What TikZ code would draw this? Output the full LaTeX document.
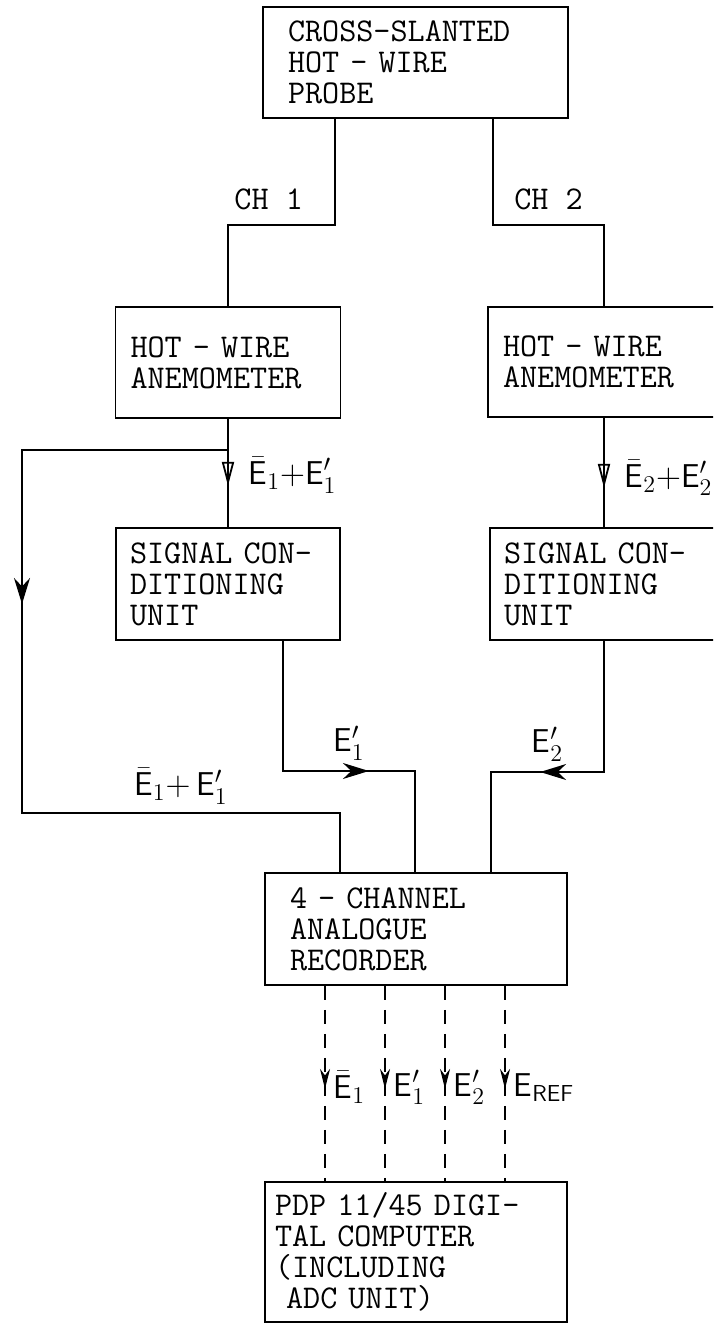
\documentclass[tikz,border=0pt]{standalone}
\usepackage{fontspec}
\usepackage{tikz}
\usetikzlibrary{arrows.meta, positioning, calc, decorations.markings}

\begin{document}
\begin{tikzpicture}[
    x=0.5pt, y=-0.5pt,
    line width=0.9pt,
    box/.style={rectangle, draw, font=\ttfamily\fontsize{16.6}{15.5}\selectfont, align=left, inner ysep=4pt},
    chan/.style={font=\ttfamily\fontsize{16.6}{15.5}\selectfont, inner sep=2pt},
    sig/.style={font=\fontsize{16.5}{19}\selectfont, inner sep=1pt},
    wire/.style={dash pattern=on 7pt off 5pt},
    feed/.style={postaction={decorate}, decoration={markings, mark=at position #1 with {\arrow{Stealth[length=13pt, width=8pt]}}}},
    vfeed/.style={postaction={decorate}, decoration={markings, mark=at position #1 with {\arrow{Triangle[open, length=12pt, width=6pt]}}}},
    tap/.style={postaction={decorate}, decoration={markings, mark=at position #1 with {\arrow{Stealth[length=10pt, width=5pt]}}}},
]
    \useasboundingbox (0,0) rectangle (713,1325);
    \clip (0,0) rectangle (713,1325);

    \node[box, text width=127.5pt, inner xsep=12.5pt, minimum height=55.5pt] (probe) at (415.5,62.5) {CROSS-SLANTED\\HOT - WIRE\\PROBE};
    \node[box, text width=97.5pt, inner xsep=7.5pt, minimum height=55.5pt] (hwa1) at (228,362.5) {HOT - WIRE\\ANEMOMETER};
    \node[box, text width=150pt, inner xsep=7.5pt, minimum height=55pt] (hwa2) at (653,362) {HOT - WIRE\\ANEMOMETER};
    \node[box, text width=150pt, inner xsep=7pt, minimum height=56pt] (sig2) at (654,584) {SIGNAL CON-\\DITIONING\\UNIT};
    \node[box, text width=98pt, inner xsep=7pt, minimum height=56pt] (sig1) at (228,584) {SIGNAL CON-\\DITIONING\\UNIT};
    \node[box, text width=126pt, inner xsep=12.5pt, minimum height=56pt] (rec) at (416,929) {4 - CHANNEL\\ANALOGUE\\RECORDER};
    \node[box, text width=141pt, inner xsep=5pt, minimum height=70pt] (pdp) at (416,1252) {PDP 11/45 DIGI-\\TAL COMPUTER\\(INCLUDING\\~ADC UNIT)};

    \coordinate (ch1) at (335,225);
    \coordinate (ch2) at (493,225);
    \coordinate (br1) at (228,450);
    \coordinate (byp) at (22,813);
    \coordinate (in1) at (340,813);
    \coordinate (j1) at (283,771);
    \coordinate (j2) at (415,771);
    \coordinate (k1) at (604,772);
    \coordinate (k2) at (491,772);

    \draw (probe.south -| ch1) -- (ch1) -- node[chan, above=5pt, pos=0.62] (lch1) {CH 1} (ch1 -| hwa1.north) -- (hwa1.north);
    \draw (probe.south -| ch2) -- (ch2) -- node[chan, above=5pt] (lch2) {CH 2} (ch2 -| k1) -- (k1 |- hwa2.north);

    \draw[vfeed=33.5pt] (hwa1.south) -- node[sig, right=9pt, pos=0.52] (l1) {$\bar{\mathsf{E}}_1{+}\mathsf{E}_1'$} (sig1.north);
    \draw[vfeed=35pt] (k1 |- hwa2.south) -- node[sig, right=9pt, pos=0.55] (l2) {$\bar{\mathsf{E}}_2{+}\mathsf{E}_2'$} (k1 |- sig2.north);

    \draw[feed=180pt] (br1) -| (byp) -- node[sig, above=3pt] (l3) {$\bar{\mathsf{E}}_1{+}\,\mathsf{E}_1'$} (in1) -- (in1 |- rec.north);
    \draw[feed=108pt] (sig1.south -| j1) -- (j1) -- node[sig, above=4pt] (l4) {$\mathsf{E}_1'$} (j2) -- (j2 |- rec.north);
    \draw[feed=97.5pt] (sig2.south -| k1) -- (k1) -- node[sig, above=4pt] (l5) {$\mathsf{E}_2'$} (k2) -- (k2 |- rec.north);

    \foreach \x/\lab [count=\i] in {325/{$\bar{\mathsf{E}}_1$}, 385/{$\mathsf{E}_1'$}, 445/{$\mathsf{E}_2'$}, 505/{$\mathsf{E}_{\mathsf{REF}}$}}
        \draw[wire, tap=51.5pt] (rec.south -| \x,0) -- node[sig, right=3pt, pos=0.52] (out\i) {\lab} (pdp.north -| \x,0);
\end{tikzpicture}
\end{document}
